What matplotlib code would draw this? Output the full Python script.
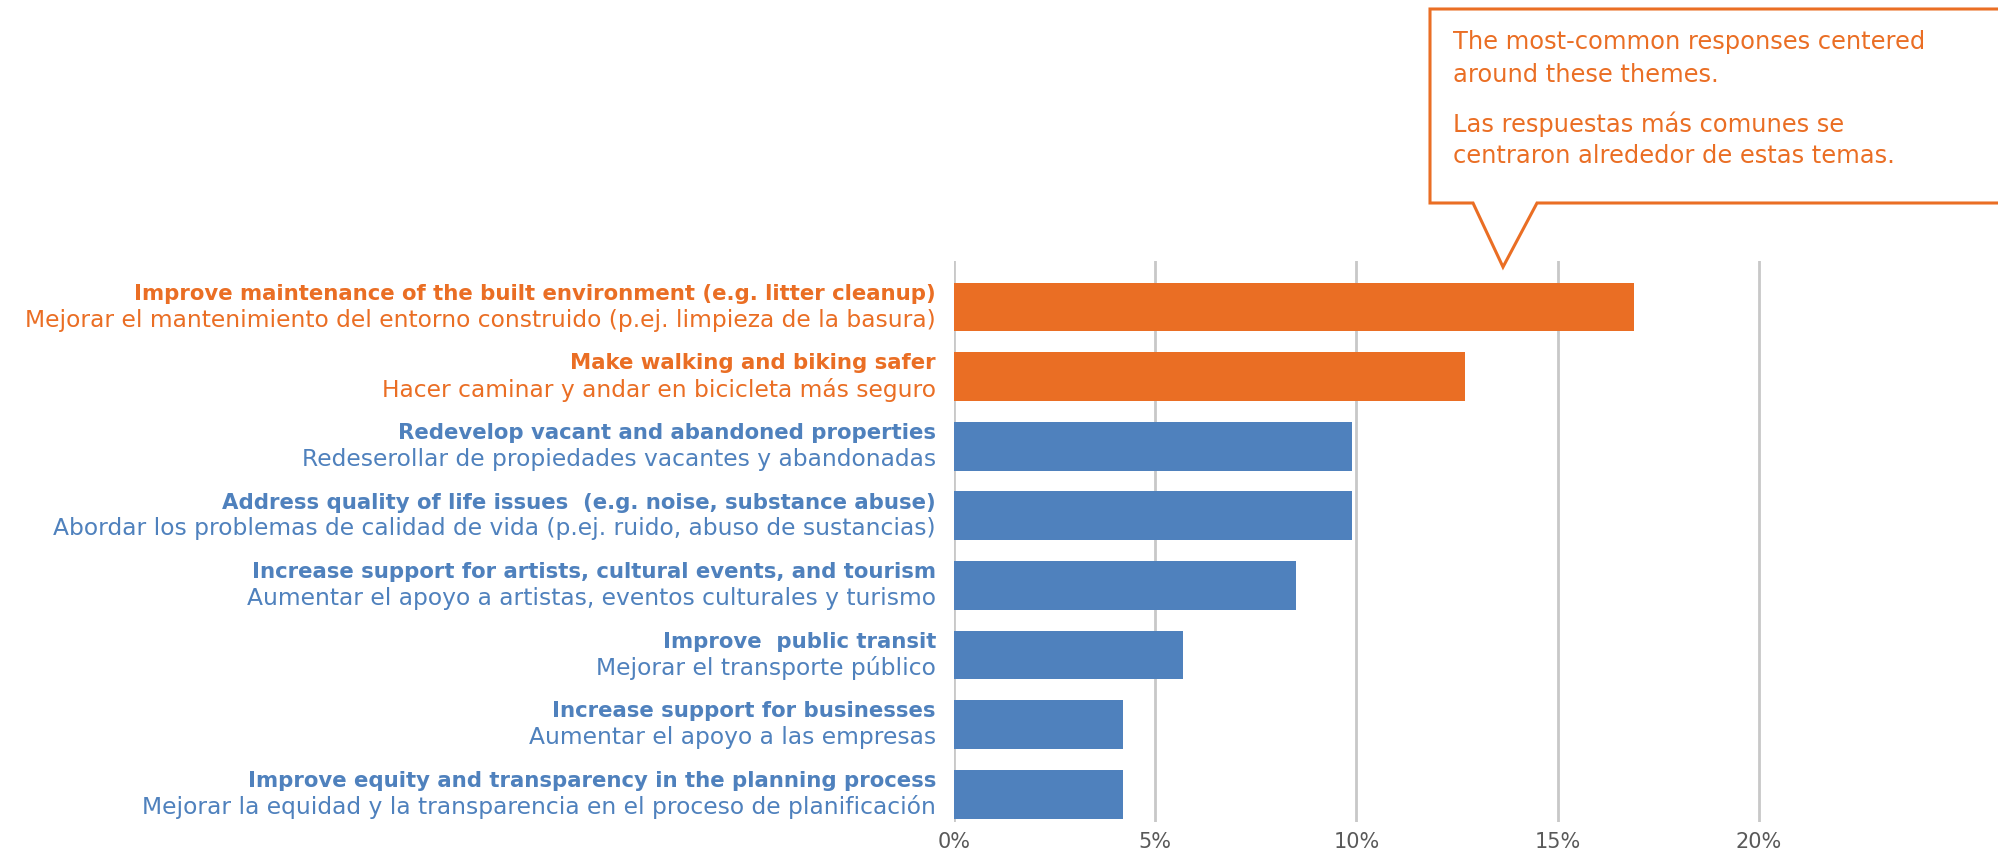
import matplotlib
matplotlib.use("Agg")
import matplotlib.pyplot as plt
from matplotlib.patches import Polygon

# data
labels_en = [
    "Improve maintenance of the built environment (e.g. litter cleanup)",
    "Make walking and biking safer",
    "Redevelop vacant and abandoned properties",
    "Address quality of life issues  (e.g. noise, substance abuse)",
    "Increase support for artists, cultural events, and tourism",
    "Improve  public transit",
    "Increase support for businesses",
    "Improve equity and transparency in the planning process",
]
labels_es = [
    "Mejorar el mantenimiento del entorno construido (p.ej. limpieza de la basura)",
    "Hacer caminar y andar en bicicleta más seguro",
    "Redeserollar de propiedades vacantes y abandonadas",
    "Abordar los problemas de calidad de vida (p.ej. ruido, abuso de sustancias)",
    "Aumentar el apoyo a artistas, eventos culturales y turismo",
    "Mejorar el transporte público",
    "Aumentar el apoyo a las empresas",
    "Mejorar la equidad y la transparencia en el proceso de planificación",
]
values = [16.9, 12.7, 9.9, 9.9, 8.5, 5.7, 4.2, 4.2]
highlight = [True, True, False, False, False, False, False, False]
ticks = [0, 5, 10, 15, 20]
tick_labels = ["0%", "5%", "10%", "15%", "20%"]
callout_lines = [
    "The most-common responses centered",
    "around these themes.",
    "Las respuestas más comunes se",
    "centraron alrededor de estas temas.",
]

ORANGE = "#EA6E24"
BLUE = "#4F81BD"
GRID = "#C8C8C8"

plt.rcParams['font.family'] = ['DejaVu Sans']

W, H = 1998, 865
fig = plt.figure(figsize=(W / 100, H / 100), dpi=100)
ax = fig.add_axes([954 / W, 1 - 822 / H, (1960 - 954) / W, (822 - 261) / H])

y = list(range(len(values)))
colors = [ORANGE if h else BLUE for h in highlight]
ax.barh(y, values, height=0.7, color=colors, zorder=3)

ax.set_xlim(0, 25)
ax.set_ylim(7.4, -0.66)
ax.set_xticks(ticks)
ax.set_xticklabels(tick_labels, fontsize=15, color="#595959")
ax.tick_params(axis="x", length=0, pad=7)
ax.set_yticks([])
ax.grid(axis="x", color=GRID, linewidth=2, zorder=0)
for s in ax.spines.values():
    s.set_visible(False)

for i in y:
    c = colors[i]
    ax.annotate(labels_en[i], (0, i), xytext=(-13, 9.5), textcoords="offset points",
                ha="right", va="center", fontsize=15.3, fontweight="bold", color=c)
    ax.annotate(labels_es[i], (0, i), xytext=(-13, -9.5), textcoords="offset points",
                ha="right", va="center", fontsize=16.8, color=c)

# callout box
pts = [(1430, 9), (2010, 9), (2010, 203), (1537, 203), (1503, 267), (1473, 203), (1430, 203)]
poly = Polygon([(px / W, 1 - py / H) for px, py in pts], closed=True, fill=True,
               facecolor="white", edgecolor=ORANGE, linewidth=2.2,
               transform=fig.transFigure, zorder=5)
fig.patches.append(poly)
for txt, ty in zip(callout_lines, [42, 75, 124, 156]):
    fig.text(1453 / W, 1 - ty / H, txt, ha="left", va="center", fontsize=17.4,
             color=ORANGE, zorder=6)

fig.savefig("out.png", dpi=100)
